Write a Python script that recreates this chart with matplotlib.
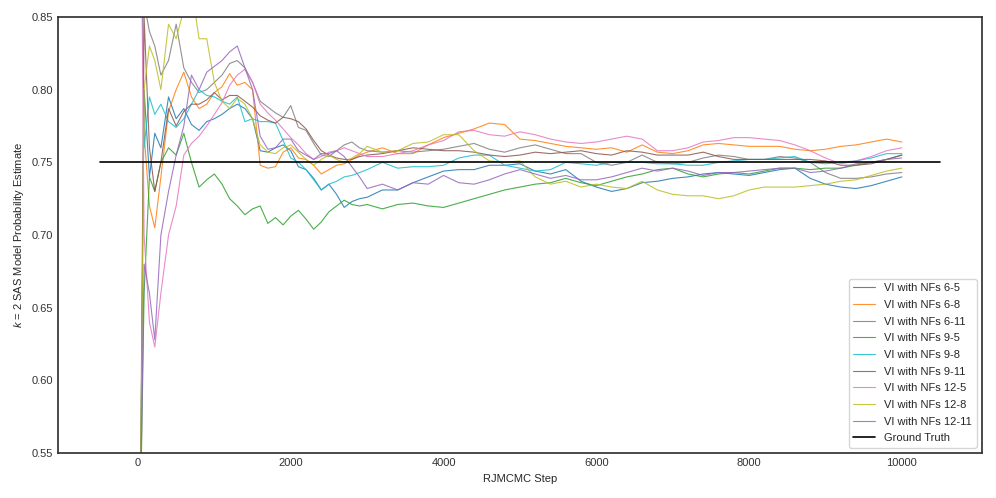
import numpy as np
import matplotlib
matplotlib.use("Agg")
import matplotlib.pyplot as plt

# RJMCMC step grid at which the running estimates were read
steps = [30, 80, 150, 220, 300, 400, 500, 600, 700, 800, 900, 1000, 1100, 1200, 1300, 1400,
         1500, 1600, 1700, 1800, 1900, 2000, 2100, 2200, 2300, 2400, 2500, 2600, 2700, 2800,
         2900, 3000, 3200, 3400, 3600, 3800, 4000, 4200, 4400, 4600, 4800, 5000, 5200, 5400,
         5600, 5800, 6000, 6200, 6400, 6600, 6800, 7000, 7200, 7400, 7600, 7800, 8000, 8200,
         8400, 8600, 8800, 9000, 9200, 9400, 9600, 9800, 10000]

nf_6_5 = [0.50, 0.80, 0.74, 0.77, 0.76, 0.795, 0.78, 0.787, 0.776, 0.772, 0.778, 0.78, 0.783, 0.787, 0.79, 0.787,
          0.78, 0.758, 0.757, 0.76, 0.762, 0.758, 0.747, 0.745, 0.739, 0.731, 0.735, 0.728, 0.719, 0.723,
          0.725, 0.726, 0.731, 0.731, 0.736, 0.74, 0.744, 0.745, 0.745, 0.748, 0.748, 0.749, 0.744, 0.742,
          0.745, 0.737, 0.733, 0.73, 0.732, 0.736, 0.737, 0.739, 0.74, 0.742, 0.743, 0.742, 0.741, 0.743,
          0.745, 0.746, 0.739, 0.735, 0.733, 0.732, 0.734, 0.737, 0.74]
nf_6_8 = [1.0, 0.77, 0.72, 0.705, 0.74, 0.785, 0.80, 0.812, 0.795, 0.787, 0.79, 0.798, 0.802, 0.811, 0.803, 0.805,
          0.80, 0.748, 0.746, 0.747, 0.757, 0.76, 0.753, 0.752, 0.748, 0.742, 0.745, 0.748, 0.749, 0.752,
          0.755, 0.757, 0.76, 0.756, 0.756, 0.762, 0.767, 0.77, 0.773, 0.777, 0.776, 0.766, 0.765, 0.763,
          0.761, 0.76, 0.759, 0.76, 0.757, 0.762, 0.757, 0.756, 0.758, 0.762, 0.763, 0.762, 0.761, 0.761,
          0.761, 0.759, 0.758, 0.759, 0.761, 0.762, 0.764, 0.766, 0.764]
nf_6_11 = [1.0, 0.86, 0.84, 0.83, 0.81, 0.82, 0.845, 0.815, 0.805, 0.798, 0.80, 0.805, 0.81, 0.818, 0.82, 0.815,
           0.805, 0.792, 0.788, 0.784, 0.781, 0.789, 0.774, 0.772, 0.763, 0.755, 0.754, 0.758, 0.762, 0.764,
           0.76, 0.758, 0.757, 0.758, 0.757, 0.758, 0.759, 0.761, 0.763, 0.759, 0.757, 0.76, 0.762, 0.759,
           0.756, 0.756, 0.75, 0.748, 0.75, 0.755, 0.75, 0.749, 0.75, 0.753, 0.755, 0.754, 0.752, 0.752,
           0.754, 0.753, 0.75, 0.743, 0.739, 0.739, 0.74, 0.742, 0.743]
nf_9_5 = [0.50, 0.66, 0.74, 0.73, 0.75, 0.76, 0.755, 0.77, 0.75, 0.733, 0.738, 0.742, 0.735, 0.725, 0.72, 0.714,
          0.718, 0.72, 0.708, 0.712, 0.707, 0.713, 0.717, 0.711, 0.704, 0.709, 0.716, 0.72, 0.724, 0.721,
          0.72, 0.721, 0.718, 0.721, 0.722, 0.72, 0.719, 0.722, 0.725, 0.728, 0.731, 0.733, 0.735, 0.736,
          0.739, 0.736, 0.734, 0.737, 0.74, 0.742, 0.745, 0.746, 0.742, 0.74, 0.742, 0.743, 0.742, 0.744,
          0.746, 0.746, 0.745, 0.746, 0.746, 0.748, 0.75, 0.752, 0.755]
nf_9_8 = [1.0, 0.76, 0.795, 0.783, 0.79, 0.778, 0.774, 0.78, 0.79, 0.80, 0.796, 0.795, 0.792, 0.79, 0.795, 0.778,
          0.78, 0.778, 0.778, 0.777, 0.765, 0.753, 0.75, 0.745, 0.738, 0.731, 0.735, 0.737, 0.74, 0.741,
          0.743, 0.745, 0.75, 0.746, 0.747, 0.747, 0.748, 0.753, 0.755, 0.755, 0.748, 0.746, 0.744, 0.745,
          0.75, 0.749, 0.748, 0.75, 0.75, 0.75, 0.749, 0.749, 0.748, 0.748, 0.75, 0.751, 0.752, 0.752,
          0.753, 0.754, 0.75, 0.749, 0.75, 0.751, 0.753, 0.756, 0.756]
nf_9_11 = [0.50, 0.85, 0.76, 0.73, 0.75, 0.787, 0.775, 0.785, 0.79, 0.79, 0.793, 0.798, 0.793, 0.796, 0.796, 0.792,
           0.788, 0.782, 0.779, 0.777, 0.781, 0.78, 0.778, 0.773, 0.765, 0.758, 0.755, 0.753, 0.752, 0.752,
           0.754, 0.755, 0.756, 0.758, 0.76, 0.759, 0.758, 0.758, 0.757, 0.755, 0.754, 0.755, 0.757, 0.756,
           0.757, 0.758, 0.756, 0.755, 0.758, 0.757, 0.755, 0.755, 0.755, 0.757, 0.754, 0.752, 0.752, 0.752,
           0.752, 0.752, 0.752, 0.751, 0.748, 0.748, 0.749, 0.752, 0.755]
nf_12_5 = [1.0, 0.70, 0.64, 0.623, 0.66, 0.70, 0.72, 0.755, 0.763, 0.768, 0.775, 0.783, 0.791, 0.803, 0.81, 0.814,
           0.805, 0.79, 0.784, 0.779, 0.773, 0.767, 0.762, 0.756, 0.752, 0.754, 0.757, 0.758, 0.76, 0.758,
           0.756, 0.754, 0.754, 0.756, 0.758, 0.762, 0.765, 0.771, 0.772, 0.769, 0.768, 0.771, 0.769, 0.766,
           0.764, 0.763, 0.764, 0.766, 0.768, 0.766, 0.758, 0.758, 0.76, 0.764, 0.765, 0.767, 0.767, 0.766,
           0.765, 0.762, 0.758, 0.753, 0.749, 0.751, 0.754, 0.758, 0.76]
nf_12_8 = [0.50, 0.80, 0.83, 0.82, 0.80, 0.845, 0.835, 0.855, 0.87, 0.835, 0.835, 0.805, 0.792, 0.787, 0.794, 0.79,
           0.78, 0.762, 0.757, 0.756, 0.76, 0.762, 0.757, 0.752, 0.748, 0.752, 0.755, 0.752, 0.75, 0.753,
           0.756, 0.761, 0.757, 0.758, 0.763, 0.764, 0.769, 0.769, 0.758, 0.751, 0.75, 0.751, 0.74, 0.735,
           0.737, 0.733, 0.735, 0.733, 0.732, 0.737, 0.731, 0.728, 0.727, 0.727, 0.725, 0.727, 0.731, 0.733,
           0.733, 0.733, 0.734, 0.735, 0.737, 0.738, 0.741, 0.744, 0.746]
nf_12_11 = [0.50, 0.68, 0.66, 0.628, 0.70, 0.73, 0.755, 0.775, 0.81, 0.80, 0.812, 0.816, 0.82, 0.826, 0.83, 0.815,
            0.80, 0.768, 0.759, 0.76, 0.766, 0.766, 0.758, 0.755, 0.752, 0.756, 0.756, 0.758, 0.754, 0.747,
            0.74, 0.732, 0.735, 0.731, 0.736, 0.735, 0.741, 0.736, 0.735, 0.738, 0.742, 0.745, 0.742, 0.739,
            0.741, 0.738, 0.738, 0.74, 0.743, 0.746, 0.744, 0.746, 0.744, 0.741, 0.743, 0.743, 0.744, 0.745,
            0.746, 0.746, 0.743, 0.744, 0.746, 0.749, 0.75, 0.752, 0.753]

labels = ["VI with NFs 6-5", "VI with NFs 6-8", "VI with NFs 6-11",
          "VI with NFs 9-5", "VI with NFs 9-8", "VI with NFs 9-11",
          "VI with NFs 12-5", "VI with NFs 12-8", "VI with NFs 12-11"]
series = [nf_6_5, nf_6_8, nf_6_11, nf_9_5, nf_9_8, nf_9_11, nf_12_5, nf_12_8, nf_12_11]
colors = ["C0", "C1", "C7", "C2", "C9", "C5", "C6", "C8", "C4"]

ground_truth = 0.75
gt_range = [-500, 10500]

plt.style.use("seaborn-v0_8-white")
plt.rcParams["font.family"] = ["Liberation Sans", "DejaVu Sans"]
plt.rcParams["mathtext.fontset"] = "custom"
plt.rcParams["mathtext.it"] = "Liberation Sans:italic"
plt.rcParams["mathtext.rm"] = "Liberation Sans"

fig, ax = plt.subplots(figsize=(9.96, 4.98), dpi=100)
fig.subplots_adjust(left=0.058, right=0.986, bottom=0.09, top=0.966)

for vals, lab, col in zip(series, labels, colors):
    ax.plot(steps, vals, color=col, lw=0.8, alpha=0.85, label=lab)
ax.plot(gt_range, [ground_truth, ground_truth], color="black", lw=1.2, label="Ground Truth")

ax.set_ylim(0.55, 0.85)
ax.set_yticks(np.arange(0.55, 0.851, 0.05))
ax.yaxis.set_major_formatter(matplotlib.ticker.FormatStrFormatter("%.2f"))
ax.set_xticks([0, 2000, 4000, 6000, 8000, 10000])
ax.tick_params(labelsize=8, colors="#333333")
ax.set_xlabel("RJMCMC Step", fontsize=8)
ax.set_ylabel("$k$ = 2 SAS Model Probability Estimate", fontsize=8)
for s in ax.spines.values():
    s.set_color("#333333")

ax.legend(loc="lower right", fontsize=8, frameon=True, labelspacing=0.6)

fig.savefig("out.png", dpi=100)
